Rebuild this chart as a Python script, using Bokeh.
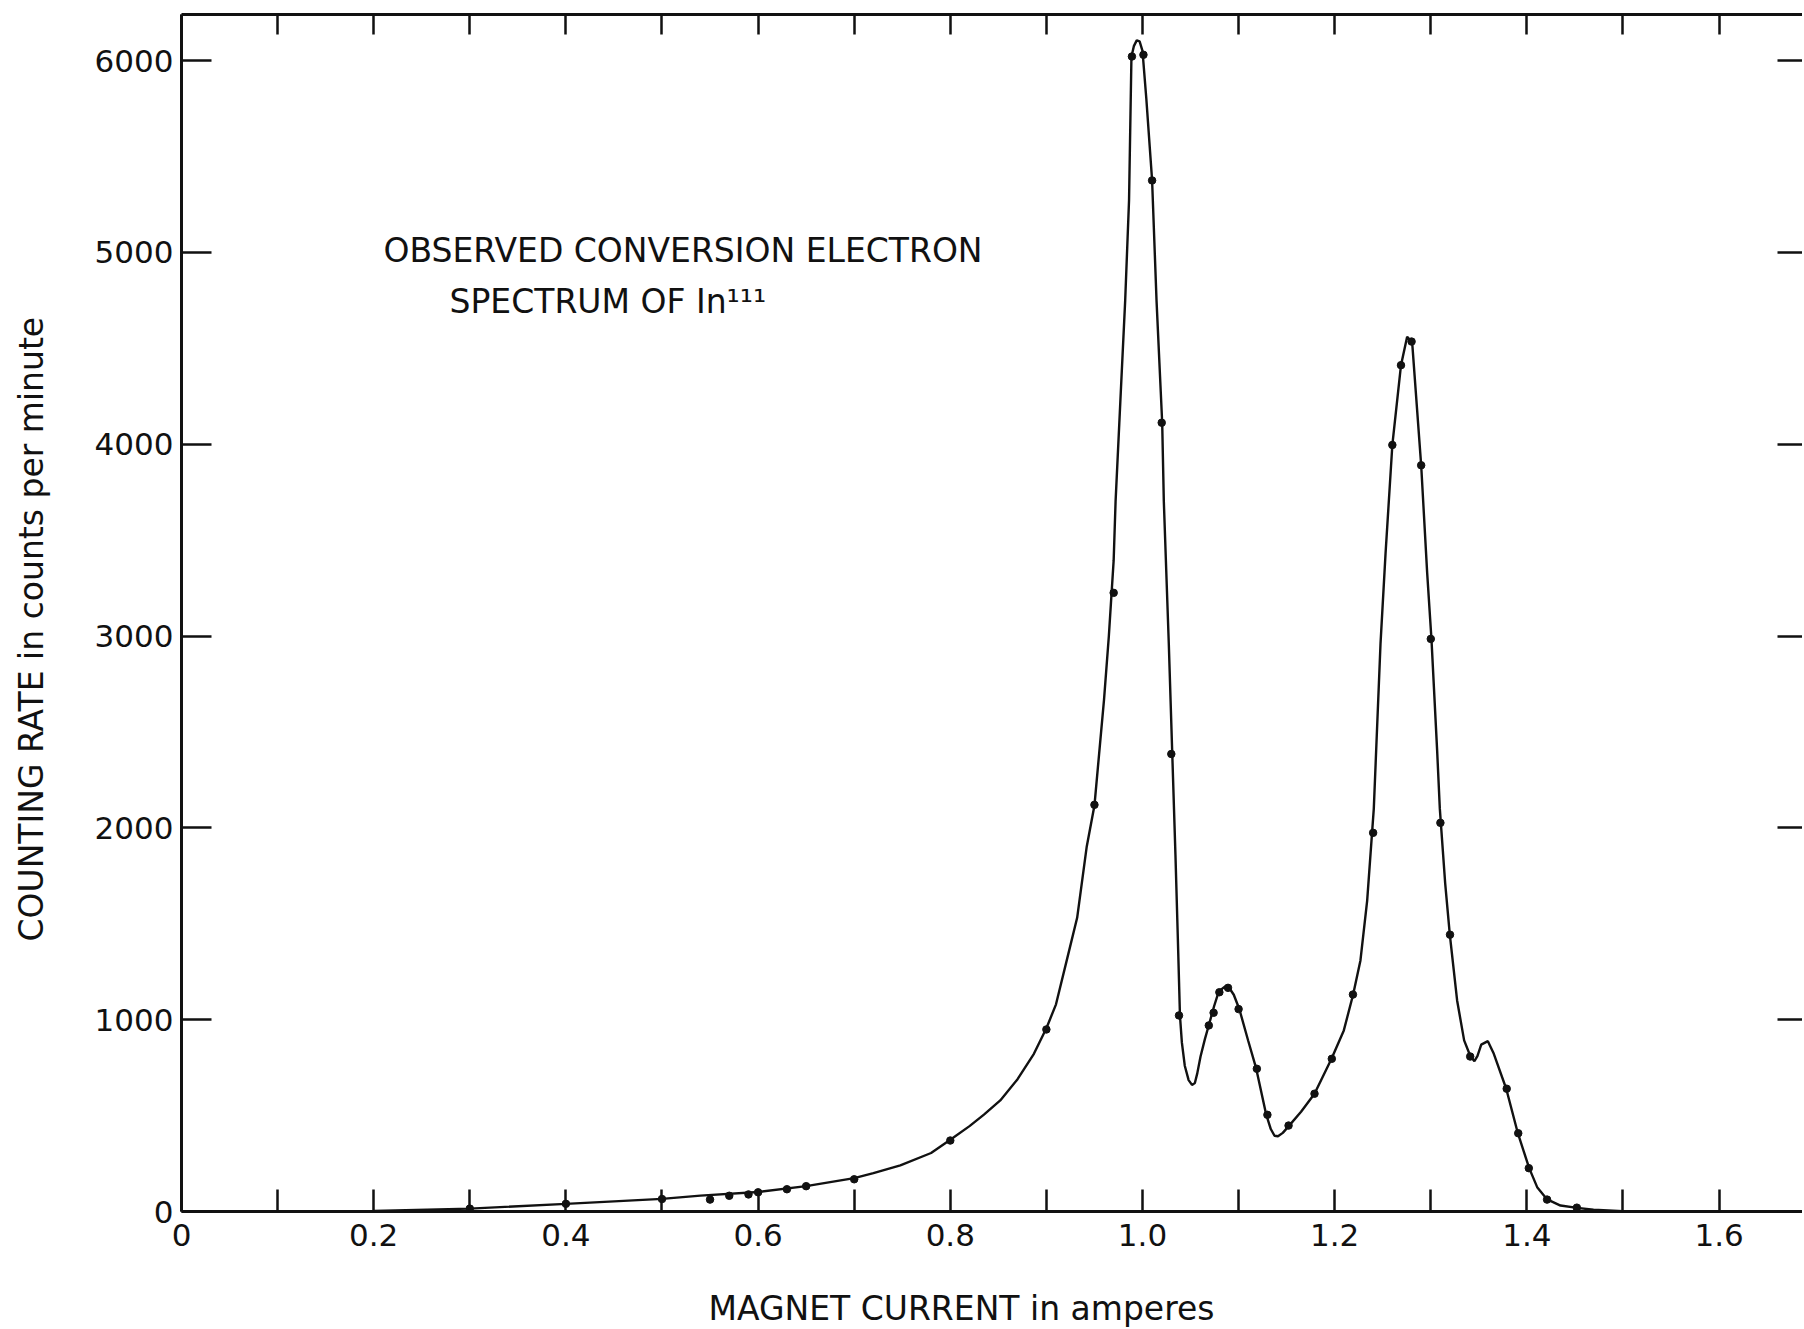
from bokeh.plotting import figure
from bokeh.models import LinearAxis, FixedTicker, Range1d, CustomJSTickFormatter, Title
from bokeh.core.properties import value
from bokeh.embed import file_html
from bokeh.resources import INLINE

# ---------------- data ----------------
# measured points (magnet current in A, counting rate in counts/min)
point_current = [0.30, 0.40, 0.50, 0.55, 0.57, 0.59, 0.60, 0.63, 0.65, 0.70,
                 0.80, 0.90, 0.95, 0.97, 0.989, 1.001, 1.010, 1.020, 1.030, 1.038,
                 1.069, 1.074, 1.080, 1.089, 1.100, 1.119, 1.130, 1.152, 1.179, 1.197,
                 1.219, 1.240, 1.260, 1.269, 1.280, 1.290, 1.300, 1.310, 1.320, 1.341,
                 1.379, 1.391, 1.402, 1.421, 1.452]
point_rate = [15, 40, 65, 62, 82, 89, 100, 116, 132, 168,
              370, 949, 2120, 3225, 6021, 6030, 5375, 4112, 2385, 1022,
              970, 1036, 1143, 1166, 1055, 744, 504, 448, 614, 796,
              1131, 1974, 3996, 4412, 4535, 3890, 2985, 2026, 1443, 808,
              640, 408, 226, 62, 20]

# hand-drawn smooth curve through the points
curve_current = [0.20, 0.30, 0.40, 0.50, 0.54, 0.60, 0.65, 0.70, 0.72, 0.748,
                 0.78, 0.80, 0.82, 0.835, 0.852, 0.87, 0.887, 0.900, 0.910, 0.922,
                 0.932, 0.942, 0.950, 0.960, 0.965, 0.970, 0.972, 0.977, 0.982, 0.986,
                 0.9885, 0.991, 0.994, 0.997, 1.000, 1.004, 1.010, 1.0146, 1.0205, 1.0222,
                 1.0274, 1.031, 1.0343, 1.0368, 1.039, 1.041, 1.044, 1.048, 1.0515, 1.0545,
                 1.057, 1.0604, 1.065, 1.069, 1.0745, 1.0794, 1.085, 1.0898, 1.095, 1.1009,
                 1.110, 1.1183, 1.1287, 1.1335, 1.1374, 1.141, 1.146, 1.1522, 1.165, 1.179,
                 1.1967, 1.2095, 1.2192, 1.2268, 1.2338, 1.2407, 1.2477, 1.2529, 1.260, 1.269,
                 1.2754, 1.2806, 1.290, 1.2962, 1.3007, 1.3066, 1.3094, 1.315, 1.3198, 1.3274,
                 1.3347, 1.3413, 1.3454, 1.3485, 1.3525, 1.3594, 1.3656, 1.3785, 1.3906, 1.4024,
                 1.4107, 1.4211, 1.435, 1.4523, 1.4693, 1.50]
curve_rate = [3, 15, 40, 66, 83, 102, 132, 174, 200, 240,
              305, 374, 445, 505, 579, 690, 822, 955, 1080, 1326,
              1531, 1903, 2116, 2670, 3000, 3394, 3702, 4228, 4750, 5271,
              6020, 6075, 6105, 6100, 6050, 5800, 5375, 4750, 4112, 3702,
              2956, 2383, 1859, 1421, 1020, 880, 760, 685, 660, 670,
              720, 808, 900, 971, 1070, 1147, 1170, 1169, 1130, 1053,
              890, 746, 506, 430, 395, 392, 410, 445, 520, 614,
              796, 944, 1131, 1309, 1621, 2100, 2962, 3428, 3996, 4412,
              4560, 4532, 3890, 3332, 2984, 2404, 2100, 1709, 1443, 1100,
              892, 808, 784, 810, 870, 888, 822, 640, 408, 226,
              127, 63, 31, 19, 9, 2]

x_tick_values = [0, 0.2, 0.4, 0.6, 0.8, 1.0, 1.2, 1.4, 1.6]
x_tick_labels = ["0", "0.2", "0.4", "0.6", "0.8", "1.0", "1.2", "1.4", "1.6"]
x_minor_values = [0.1, 0.3, 0.5, 0.7, 0.9, 1.1, 1.3, 1.5]
y_tick_values = [0, 1000, 2000, 3000, 4000, 5000, 6000]
y_tick_labels = ["0", "1000", "2000", "3000", "4000", "5000", "6000"]

x_title = "MAGNET CURRENT in amperes"
y_title = "COUNTING RATE in counts per minute"
note_line1 = "OBSERVED CONVERSION ELECTRON"
note_line2 = "SPECTRUM OF In\u00b9\u00b9\u00b9"

# ---------------- figure ----------------
FONT = "DejaVu Sans"
INK = "#111111"

p = figure(frame_width=1621, frame_height=1197,
           x_range=Range1d(0, 1.6868), y_range=Range1d(0, 6240),
           output_backend="svg", toolbar_location=None,
           x_axis_location=None, y_axis_location=None,
           min_border_left=181, min_border_right=0,
           min_border_top=14, min_border_bottom=115)
p.outline_line_color = None
p.background_fill_color = "white"
p.border_fill_color = "white"
p.xgrid.visible = False
p.ygrid.visible = False

blank = CustomJSTickFormatter(code="return ''")

def style_axis(ax, tick_len):
    ax.axis_line_color = INK
    ax.axis_line_width = 3
    ax.major_tick_line_color = INK
    ax.major_tick_line_width = 2.5
    ax.minor_tick_line_color = INK
    ax.minor_tick_line_width = 2.5
    ax.major_tick_in = tick_len
    ax.major_tick_out = 0
    ax.minor_tick_in = tick_len
    ax.minor_tick_out = 0
    ax.major_label_text_font = FONT
    ax.major_label_text_color = INK

# bottom axis
xb = LinearAxis(ticker=FixedTicker(ticks=x_tick_values, minor_ticks=x_minor_values),
                major_label_overrides=dict(zip(x_tick_values, x_tick_labels)))
style_axis(xb, 22)
xb.major_label_text_font_size = "31px"
xb.major_label_standoff = 12
p.add_layout(xb, "below")

# top axis (ticks only)
xt = LinearAxis(ticker=FixedTicker(ticks=x_tick_values, minor_ticks=x_minor_values),
                formatter=blank)
style_axis(xt, 20)
xt.major_label_standoff = 0
xt.major_label_text_font_size = "1px"
p.add_layout(xt, "above")

# left axis
yl = LinearAxis(ticker=FixedTicker(ticks=y_tick_values, minor_ticks=[]),
                major_label_overrides=dict(zip(y_tick_values, y_tick_labels)))
style_axis(yl, 30)
yl.major_label_text_font_size = "31px"
yl.major_label_standoff = 8
p.add_layout(yl, "left")

# right axis (ticks only, spine outside the photographed area)
yr = LinearAxis(ticker=FixedTicker(ticks=y_tick_values, minor_ticks=[]),
                formatter=blank)
style_axis(yr, 25)
yr.axis_line_color = None
yr.major_label_standoff = 0
yr.major_label_text_font_size = "1px"
p.add_layout(yr, "right")

# axis titles as side titles (placed by offset from the frame's lower-left corner)
p.add_layout(Title(text=x_title, align="left", offset=527, standoff=0,
                   padding=dict(left=0, right=0, top=40, bottom=0),
                   text_font=FONT, text_font_size="33px", text_font_style="normal",
                   text_color=INK, vertical_align="top"), "below")
p.add_layout(Title(text=y_title, align="left", offset=270, standoff=0,
                   padding=dict(left=0, right=0, top=0, bottom=41),
                   text_font=FONT, text_font_size="33px", text_font_style="normal",
                   text_color=INK, vertical_align="bottom"), "left")

# curve and measured points
p.line(curve_current, curve_rate, line_color=INK, line_width=2.4)
p.scatter(point_current, point_rate, size=7.5, marker="circle",
          fill_color=INK, line_color=INK)

# annotation
p.text(x=[0.2102], y=[5010], text=[note_line1], text_font=value(FONT),
       text_font_size="33px", text_color=INK, text_align="left", text_baseline="middle")
p.text(x=[0.2789], y=[4744], text=[note_line2], text_font=value(FONT),
       text_font_size="33px", text_color=INK, text_align="left", text_baseline="middle")

open("out.html", "w").write(file_html(p, INLINE))
